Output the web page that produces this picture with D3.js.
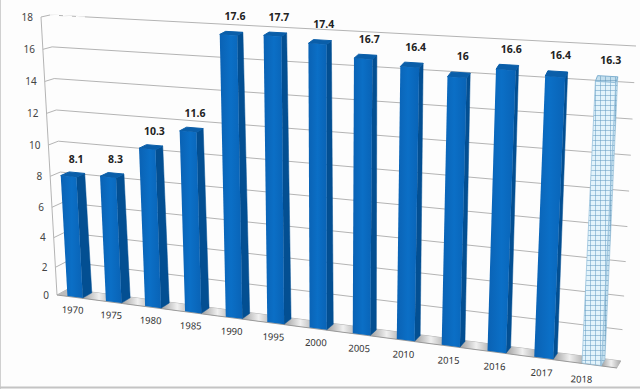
<!DOCTYPE html>
<html>
<head>
<meta charset="utf-8">
<script src="https://cdn.jsdelivr.net/npm/d3@7/dist/d3.min.js"></script>
<style>
body { margin: 0; background: #fff; }
text { font-family: "Noto Sans", sans-serif; fill: #333; }
.value { font-weight: bold; font-size: 10.5px; fill: #222; text-anchor: middle; }
.tick { font-size: 10px; text-anchor: end; fill: #444; }
.year { font-size: 9.5px; text-anchor: middle; fill: #333; }
</style>
</head>
<body>
<div id="chart"></div>
<script>
var years = ["1970","1975","1980","1985","1990","1995","2000","2005","2010","2015","2016","2017","2018"];
var values = [8.1,8.3,10.3,11.6,17.6,17.7,17.4,16.7,16.4,16,16.6,16.4,16.3];
var projected = ["2018"]; //the hatched bar
var yTicks = [0,2,4,6,8,10,12,14,16,18];

var w = 640;
var h = 389;

var svg = d3.select("#chart").append("svg")
    .attr("width",w)
    .attr("height",h)
    .style("display","block");

//the box of the 3d chart, as seen in the picture: left/right, bottom/top, front/back
var box = {
    lbf:[57,295], ltf:[41,17],  lbb:[68,289], ltb:[50,15],
    rbf:[617,368], rtf:[634,53], rbb:[621,361], rtb:[636,46]
};

var xScale = d3.scaleBand().domain(years).range([0.02,0.975]).paddingInner(0.6);
var yScale = d3.scalePow().exponent(1.05).domain([0,18]).range([0,1]);

function warp(u){ //bars get wider to the right
    var b = 0.136;
    return u/(1+b*(1-u));
}

function mix(a,b,t){ return [a[0]+(b[0]-a[0])*t, a[1]+(b[1]-a[1])*t]; }

//u along categories, val on the value axis, d from front (0) to back (1)
function project(u,val,d){
    var f = warp(u), v = yScale(val);
    var front = mix(mix(box.lbf,box.rbf,f), mix(box.ltf,box.rtf,f), v);
    var back = mix(mix(box.lbb,box.rbb,f), mix(box.ltb,box.rtb,f), v);
    return mix(front,back,d);
}

function poly(points){ return points.map(function(p){ return p.join(","); }).join(" "); }

var defs = svg.append("defs");

var gapGrad = defs.append("linearGradient").attr("id","gap");
gapGrad.append("stop").attr("offset","0").attr("stop-color","#9c9c9c");
gapGrad.append("stop").attr("offset","0.5").attr("stop-color","#f0f0f0");
gapGrad.append("stop").attr("offset","1").attr("stop-color","#a6a6a6");

var frontGrad = defs.append("linearGradient").attr("id","front");
frontGrad.append("stop").attr("offset","0").attr("stop-color","#0a62b4");
frontGrad.append("stop").attr("offset","0.5").attr("stop-color","#0b6fc6");
frontGrad.append("stop").attr("offset","1").attr("stop-color","#0963b6");

function hatchPattern(id,fill,line){
    var p = defs.append("pattern").attr("id",id)
        .attr("patternUnits","userSpaceOnUse").attr("width",5).attr("height",5);
    p.append("rect").attr("width",5).attr("height",5).attr("fill",fill);
    p.append("path").attr("d","M0 0H5M0 0V5").attr("stroke",line).attr("stroke-width",1).attr("fill","none");
}
hatchPattern("hatch","#e2f3fb","#5f97bf");
hatchPattern("hatchSide","#c3dfee","#5a8fb5");

//page frame
svg.append("rect").attr("width",w).attr("height",h).attr("fill","#fdfdfd");
svg.append("line").attr("x1",0.5).attr("x2",0.5).attr("y1",0).attr("y2",h).attr("stroke","#d0d0d0");
svg.append("line").attr("x1",0).attr("x2",w).attr("y1",387.5).attr("y2",387.5).attr("stroke","#c4c4c4").attr("stroke-width",2);

//grid lines on the two walls
yTicks.forEach(function(t){
    var a = project(0,t,0), b = project(0,t,1), c = project(1,t,1);
    svg.append("path")
        .attr("d","M"+a+"L"+b+"L"+c)
        .attr("fill","none")
        .attr("stroke","#b4b4b4");
    svg.append("text")
        .attr("class","tick")
        .attr("x",a[0]-8)
        .attr("y",a[1]+3.5)
        .text(t);
});

//top line fades out in the corner
svg.append("path")
    .attr("d","M"+project(0,18,1)+"L"+[88,17.5])
    .attr("fill","none").attr("stroke","#fdfdfd").attr("stroke-width",1.5).attr("stroke-dasharray","9 4");

svg.append("line") //value axis
    .attr("x1",box.lbf[0]).attr("y1",box.lbf[1])
    .attr("x2",box.ltf[0]).attr("y2",box.ltf[1])
    .attr("stroke","#b4b4b4");

//floor
svg.append("polygon")
    .attr("points",poly([project(0,0,0),project(1,0,0),project(1,0,1),project(0,0,1)]))
    .attr("fill","#bdbdbd");

var step = xScale.step();
svg.selectAll(".gap").data(years).enter().append("polygon")
    .attr("class","gap")
    .attr("points",function(d){
        var a = xScale(d)+xScale.bandwidth(), b = Math.min(a+step-xScale.bandwidth(),1);
        return poly([project(a,0,0),project(b,0,0),project(b,0,1),project(a,0,1)]);
    })
    .attr("fill","url(#gap)");
svg.append("line") //front edge of floor
    .attr("x1",box.lbf[0]).attr("y1",box.lbf[1])
    .attr("x2",box.rbf[0]).attr("y2",box.rbf[1])
    .attr("stroke","#9a9a9a");

//bars
var depth0 = 0.05, depth1 = 0.9;
var bars = svg.selectAll(".bar")
    .data(years.map(function(d,i){ return {year:d, value:values[i]}; }))
    .enter().append("g")
    .attr("class","bar");

function isProj(d){ return projected.indexOf(d.year) >= 0; }

bars.append("polygon") //side
    .attr("points",function(d){
        var r = xScale(d.year)+xScale.bandwidth();
        return poly([project(r,0,depth0),project(r,0,depth1),project(r,d.value,depth1),project(r,d.value,depth0)]);
    })
    .attr("fill",function(d){ return isProj(d) ? "url(#hatchSide)" : "#034f92"; })
    .attr("stroke",function(d){ return isProj(d) ? "#7fb0d0" : "#034f92"; })
    .attr("stroke-width",0.5);

bars.append("polygon") //top
    .attr("points",function(d){
        var l = xScale(d.year), r = l+xScale.bandwidth();
        return poly([project(l,d.value,depth0),project(r,d.value,depth0),project(r,d.value,depth1),project(l,d.value,depth1)]);
    })
    .attr("fill",function(d){ return isProj(d) ? "url(#hatchSide)" : "#0a5ea9"; })
    .attr("stroke",function(d){ return isProj(d) ? "#7fb0d0" : "#0a5ea9"; })
    .attr("stroke-width",1)
    .attr("stroke-linejoin","round");

bars.append("polygon") //front
    .attr("points",function(d){
        var l = xScale(d.year), r = l+xScale.bandwidth();
        return poly([project(l,0,depth0),project(r,0,depth0),project(r,d.value,depth0),project(l,d.value,depth0)]);
    })
    .attr("fill",function(d){ return isProj(d) ? "url(#hatch)" : "url(#front)"; })
    .attr("stroke",function(d){ return isProj(d) ? "#8fbcd9" : "none"; })
    .attr("stroke-width",0.7);

//value labels, they lift a bit more to the right
bars.append("text")
    .attr("class","value")
    .attr("x",function(d){ return project(xScale(d.year)+xScale.bandwidth()*0.7,d.value,0.5)[0]; })
    .attr("y",function(d){ return project(xScale(d.year),d.value,0.5)[1]-11-4*xScale(d.year); })
    .text(function(d){ return d.value; });

//year labels
bars.append("text")
    .attr("class","year")
    .attr("transform",function(d){
        var p = project(xScale(d.year)+xScale.bandwidth()/2,0,0);
        var nudge = isProj(d) ? -10 : -2; //last label sits left of its bar in the original
        return "translate("+(p[0]+nudge)+","+(p[1]+16+2*xScale(d.year))+") rotate(1.5)";
    })
    .text(function(d){ return d.year; });
</script>
</body>
</html>
